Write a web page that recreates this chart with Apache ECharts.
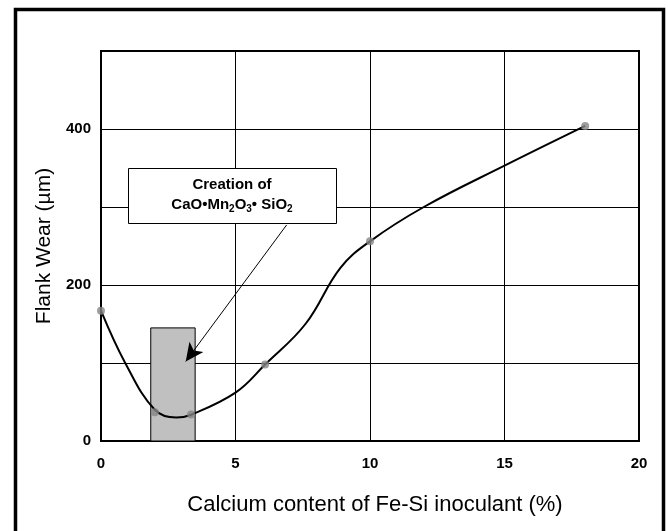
<!DOCTYPE html>
<html>
<head>
<meta charset="utf-8">
<script src="https://cdn.jsdelivr.net/npm/echarts@6/dist/echarts.min.js"></script>
<style>
    html, body { margin: 0; padding: 0; background: #fff; }
    #mychart { width: 668px; height: 531px; }
</style>
</head>
<body>
<div id="mychart"></div>
<script>
// measured points (Ca %, flank wear um)
var pointX = [0, 2, 3.35, 6.1, 10, 18]
var pointY = [167, 37, 34, 98, 256, 404]

// fitted curve
var curveX = [0, 0.9, 2, 2.8, 3.3, 5, 6.1, 7.6, 8.9, 10, 12, 15, 18]
var curveY = [167, 100, 40, 30, 33, 62, 98, 150, 222, 256, 300, 353, 404]

// shaded band and the note arrow
var bandX = [1.85, 3.5]
var bandTop = 145
var arrowFrom = [6.9, 277]
var arrowTo = [3.15, 102]
var noteLines = ['Creation of', 'CaO•Mn{s|2}O{s|3}• SiO{s|2}']

var xTicks = [0, 5, 10, 15, 20]
var yTicks = [0, 200, 400]

var tickFont = '"Liberation Sans", Arial, sans-serif'
var titleFont = '"Liberation Sans", Arial, sans-serif'

function pairs(xs, ys) {
    var out = []
    for (var i = 0; i < xs.length; i++) {
        out.push([xs[i], ys[i]])
    }
    return out
}

var myChart = echarts.init(document.getElementById('mychart'))

var option = {
    animation: false,
    backgroundColor: '#fff',
    grid: {
        left: 101,
        right: 29,
        top: 51,
        bottom: 90,
        show: true,
        borderColor: '#000',
        borderWidth: 2,
    },
    xAxis: {
        type: 'value',
        min: 0,
        max: 20,
        interval: 5,
        name: 'Calcium content of Fe-Si inoculant (%)',
        nameLocation: 'middle',
        nameGap: 53,
        nameTextStyle: {
            color: '#000',
            fontFamily: titleFont,
            fontSize: 22,
            padding: [0, 0, 0, 10],
        },
        axisLine: { lineStyle: { color: '#000', width: 2 } },
        axisTick: { show: false },
        splitLine: { lineStyle: { color: '#000', width: 1 } },
        axisLabel: {
            color: '#000',
            fontFamily: tickFont,
            fontWeight: 'bold',
            fontSize: 15,
            margin: 15,
            formatter: function (v) {
                return xTicks.indexOf(v) >= 0 ? String(v) : ''
            },
        },
    },
    yAxis: {
        type: 'value',
        min: 0,
        max: 500,
        interval: 100,
        name: 'Flank Wear (µm)',
        nameLocation: 'middle',
        nameGap: 45,
        nameTextStyle: {
            color: '#000',
            fontFamily: titleFont,
            fontSize: 21,
        },
        axisLine: { show: true, lineStyle: { color: '#000', width: 2 } },
        axisTick: { show: false },
        splitLine: { lineStyle: { color: '#000', width: 1 } },
        axisLabel: {
            color: '#000',
            fontFamily: tickFont,
            fontWeight: 'bold',
            fontSize: 15,
            margin: 10,
            formatter: function (v) {
                return yTicks.indexOf(v) >= 0 ? String(v) : ''
            },
        },
    },
    series: [
        {
            // grey band
            type: 'line',
            data: [],
            z: 1,
            markArea: {
                silent: true,
                itemStyle: {
                    color: '#c0c0c0',
                    borderColor: '#000',
                    borderWidth: 1,
                },
                data: [[{ coord: [bandX[0], 0] }, { coord: [bandX[1], bandTop] }]],
            },
        },
        {
            type: 'line',
            data: pairs(curveX, curveY),
            smooth: 0.4,
            showSymbol: false,
            z: 3,
            lineStyle: { color: '#000', width: 2 },
        },
        {
            type: 'scatter',
            data: pairs(pointX, pointY),
            symbolSize: 8,
            z: 4,
            itemStyle: { color: '#858585' },
        },
        {
            // arrow from the note box
            type: 'line',
            data: [],
            z: 5,
            markLine: {
                silent: true,
                symbol: ['none', 'arrow'],
                symbolSize: [13, 18],
                label: { show: false },
                lineStyle: { color: '#000', width: 1, type: 'solid' },
                data: [[{ coord: arrowFrom }, { coord: arrowTo }]],
            },
        },
    ],
    graphic: [
        {
            type: 'rect',
            left: 13,
            top: 7,
            shape: { width: 648, height: 540 },
            style: { fill: 'none', stroke: '#000', lineWidth: 3.5 },
            z: 10,
        },
        {
            type: 'rect',
            left: 128,
            top: 168,
            shape: { width: 208, height: 55 },
            style: { fill: '#fff', stroke: '#000', lineWidth: 1 },
            z: 10,
        },
        {
            type: 'text',
            x: 232,
            y: 175,
            style: {
                text: noteLines.join('\n'),
                align: 'center',
                fill: '#000',
                font: 'bold 15px ' + titleFont,
                lineHeight: 20,
                rich: {
                    s: {
                        fontSize: 10,
                        fontWeight: 'bold',
                        fontFamily: titleFont,
                        padding: [8, 0, 0, 0],
                    },
                },
            },
            z: 11,
        },
    ],
}

myChart.setOption(option)
</script>
</body>
</html>
